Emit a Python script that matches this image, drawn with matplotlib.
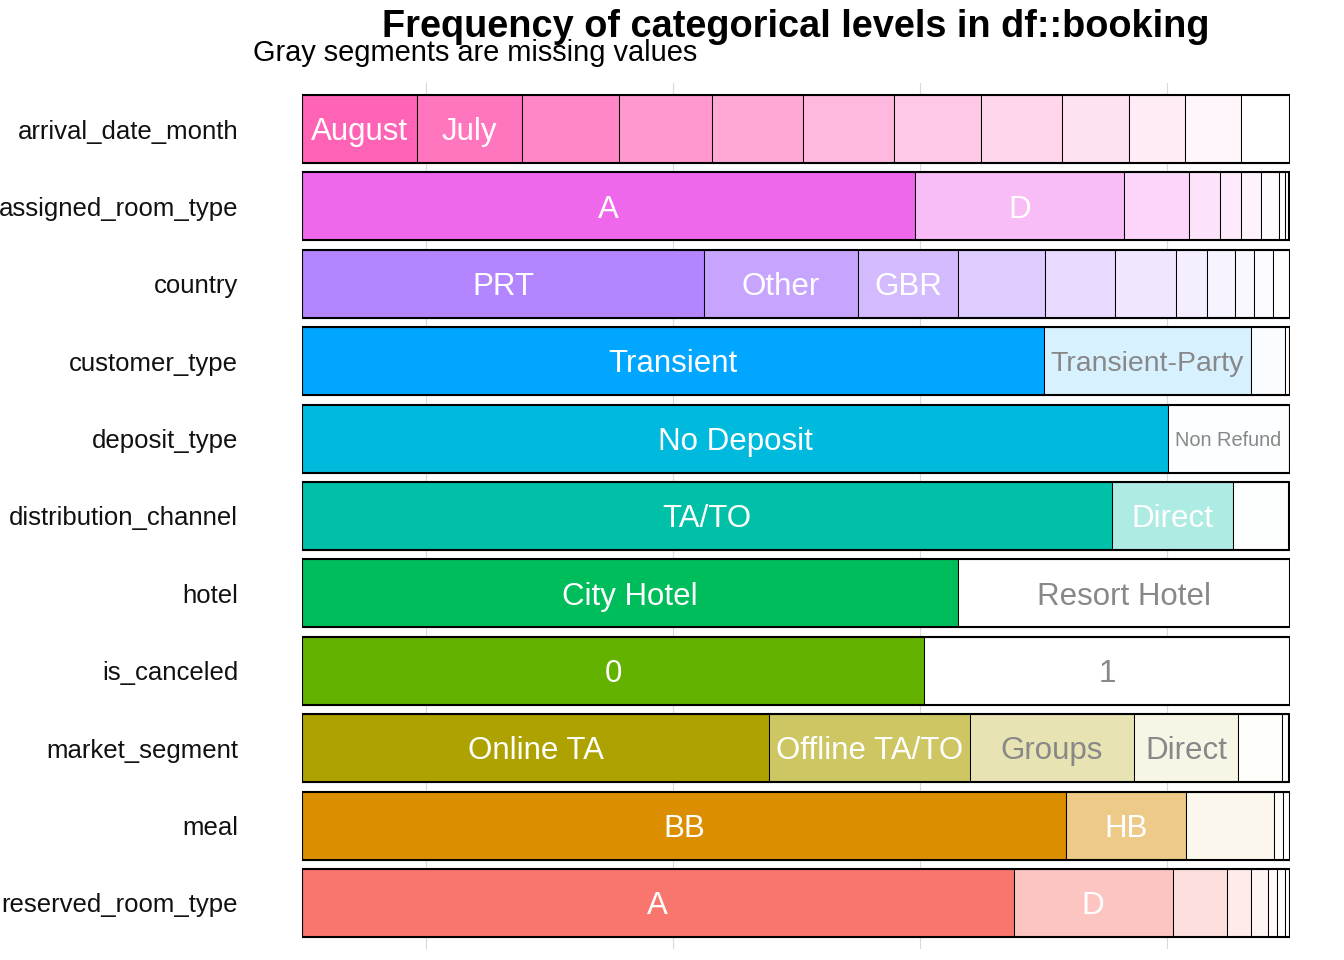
import matplotlib
matplotlib.use("Agg")
import matplotlib.pyplot as plt
from matplotlib.patches import Rectangle
from matplotlib.transforms import ScaledTranslation
from matplotlib.colors import to_rgb
import numpy as np

# ---------------- data ----------------
variables = ["arrival_date_month", "assigned_room_type", "country", "customer_type",
             "deposit_type", "distribution_channel", "hotel", "is_canceled",
             "market_segment", "meal", "reserved_room_type"]

arrival_levels = ["August", "July", "May", "October", "April", "June", "September",
                  "March", "February", "November", "December", "January"]
arrival_counts = [13877, 12661, 11791, 11160, 11089, 10939, 10508, 9794, 8068, 6794, 6780, 5929]

assigned_levels = ["A", "D", "E", "F", "G", "C", "B", "H", "I", "K", "P", "L"]
assigned_counts = [74053, 25322, 7806, 3751, 2553, 2375, 2163, 712, 363, 279, 12, 1]

country_levels = ["PRT", "Other", "GBR", "FRA", "ESP", "DEU", "ITA", "IRL", "BEL", "BRA", "NLD"]
country_counts = [48590, 18590, 12129, 10415, 8568, 7287, 3766, 3375, 2342, 2224, 2104]

customer_levels = ["Transient", "Transient-Party", "Contract", "Group"]
customer_counts = [89613, 25124, 4076, 577]

deposit_levels = ["No Deposit", "Non Refund", "Refundable"]
deposit_counts = [104641, 14587, 162]

distribution_levels = ["TA/TO", "Direct", "Corporate", "GDS", "Undefined"]
distribution_counts = [97870, 14645, 6677, 193, 5]

hotel_levels = ["City Hotel", "Resort Hotel"]
hotel_counts = [79330, 40060]

canceled_levels = ["0", "1"]
canceled_counts = [75166, 44224]

market_levels = ["Online TA", "Offline TA/TO", "Groups", "Direct", "Corporate",
                 "Complementary", "Aviation", "Undefined"]
market_counts = [56477, 24219, 19811, 12606, 5295, 743, 237, 2]

meal_levels = ["BB", "HB", "SC", "Undefined", "FB"]
meal_counts = [92310, 14463, 10650, 1169, 798]

reserved_levels = ["A", "D", "E", "F", "G", "B", "C", "H", "P", "L"]
reserved_counts = [85994, 19201, 6535, 2897, 2094, 1118, 932, 601, 12, 6]

title = "Frequency of categorical levels in df::booking"
subtitle = "Gray segments are missing values"

level_table = [
    (arrival_levels, arrival_counts),
    (assigned_levels, assigned_counts),
    (country_levels, country_counts),
    (customer_levels, customer_counts),
    (deposit_levels, deposit_counts),
    (distribution_levels, distribution_counts),
    (hotel_levels, hotel_counts),
    (canceled_levels, canceled_counts),
    (market_levels, market_counts),
    (meal_levels, meal_counts),
    (reserved_levels, reserved_counts),
]

# ---------------- style ----------------
base_colors = ["#FF63B6", "#EF67EB", "#B385FF", "#00A6FF", "#00BADE", "#00C1A7",
               "#00BD5C", "#64B200", "#AEA200", "#DB8E00", "#F8766D"]
label_thresh = 0.1
gray_text = "#888888"

plt.rcParams["font.family"] = ["Liberation Sans", "DejaVu Sans"]

W, H = 1344, 960
fig = plt.figure(figsize=(W / 100, H / 100), dpi=100)
px_left, px_right, px_top, px_bottom = 302, 1290, 82.6, 949.4
ax = fig.add_axes([px_left / W, 1 - px_bottom / H, (px_right - px_left) / W,
                   (px_bottom - px_top) / H])
n = len(variables)
ax.set_xlim(0, 1)
ax.set_ylim(n - 0.4, -0.6)
for s in ax.spines.values():
    s.set_visible(False)
for gx in [0.125, 0.375, 0.625, 0.875]:
    ax.axvline(gx, color="#D9D9D9", lw=0.8, zorder=0)
ax.set_xticks([])
ax.set_yticks(range(n))
ax.set_yticklabels(variables, fontsize=18.5, color="#111111")
ax.tick_params(axis="y", length=0, pad=46)

bar_h = 0.88
renderer = fig.canvas.get_renderer()
panel_w_px = px_right - px_left
base_fs = 22.5

for i, ((names, counts), base) in enumerate(zip(level_table, base_colors)):
    counts = np.asarray(counts, dtype=float)
    props = counts / counts.sum()
    right = np.cumsum(props)
    left = right - props
    rest = 1 - props[0]
    alphas = (1 - right) / rest if rest > 0 else np.ones_like(props)
    alphas = np.clip(alphas, 0, 1)
    alphas[0] = 1.0
    brgb = np.array(to_rgb(base))
    for j, (nm, p, l, a) in enumerate(zip(names, props, left, alphas)):
        col = 1 - a * (1 - brgb)
        ax.add_patch(Rectangle((l, i - bar_h / 2), p, bar_h, facecolor=col,
                               edgecolor="black", lw=0.75, zorder=2))
        if p > label_thresh:
            tcol = "white" if a > 0.31 else gray_text
            fs = base_fs
            t = ax.text(l + p / 2, i, nm, ha="center", va="baseline", fontsize=fs,
                        color=tcol, zorder=4)
            wpx = t.get_window_extent(renderer).width
            avail = p * panel_w_px - 14
            if wpx > avail:
                fs = fs * avail / wpx
                t.set_fontsize(fs)
            t.set_transform(ax.transData + ScaledTranslation(0, -0.358 * fs / 72,
                                                             fig.dpi_scale_trans))
    ax.add_patch(Rectangle((0, i - bar_h / 2), 1, bar_h, facecolor="none",
                           edgecolor="black", lw=1.5, zorder=3))

fig.text(796 / W, 1 - 37 / H, title, ha="center", va="baseline", fontsize=27.3,
         fontweight="bold", color="black")
fig.text(253 / W, 1 - 61 / H, subtitle, ha="left", va="baseline", fontsize=20.9,
         color="black")

fig.savefig("out.png", dpi=100)
